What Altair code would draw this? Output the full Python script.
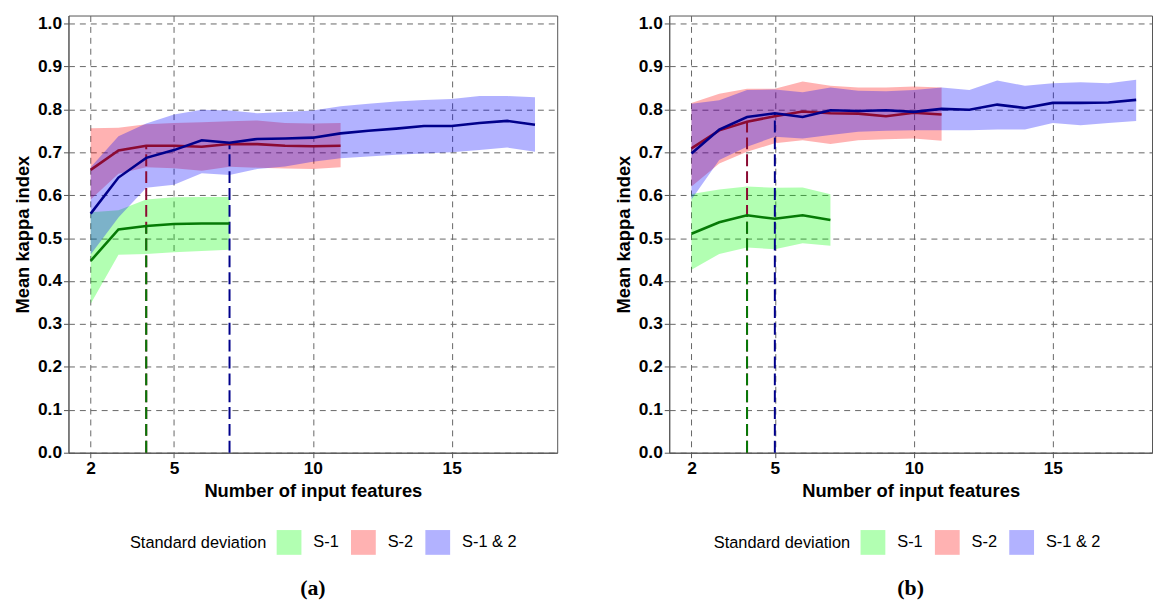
import altair as alt
import pandas as pd

# ---------------- data ----------------
series_names = ["S-1", "S-2", "S-1 & 2"]

# Panel (a)
a_x_s1 = [2, 3, 4, 5, 6, 7]
a_s1_mean = [0.447, 0.520, 0.528, 0.533, 0.534, 0.534]
a_s1_upper = [0.560, 0.565, 0.590, 0.595, 0.596, 0.596]
a_s1_lower = [0.347, 0.461, 0.463, 0.467, 0.470, 0.473]

a_x_s2 = [2, 3, 4, 5, 6, 7, 8, 9, 10, 11]
a_s2_mean = [0.659, 0.704, 0.715, 0.715, 0.713, 0.719, 0.719, 0.715, 0.714, 0.715]
a_s2_upper = [0.756, 0.757, 0.765, 0.768, 0.770, 0.772, 0.774, 0.768, 0.767, 0.768]
a_s2_lower = [0.590, 0.650, 0.665, 0.663, 0.657, 0.666, 0.664, 0.662, 0.661, 0.665]

a_x_s12 = [2, 3, 4, 5, 6, 7, 8, 9, 10, 11, 12, 13, 14, 15, 16, 17, 18]
a_s12_mean = [0.557, 0.641, 0.687, 0.705, 0.728, 0.722, 0.731, 0.732, 0.734,
              0.744, 0.750, 0.755, 0.761, 0.761, 0.768, 0.773, 0.764]
a_s12_upper = [0.665, 0.737, 0.767, 0.788, 0.799, 0.797, 0.791, 0.794, 0.797,
               0.807, 0.813, 0.818, 0.822, 0.824, 0.831, 0.831, 0.828]
a_s12_lower = [0.462, 0.548, 0.617, 0.624, 0.651, 0.647, 0.661, 0.667, 0.678,
               0.686, 0.690, 0.694, 0.697, 0.700, 0.705, 0.711, 0.701]

a_best_x = [4, 4, 7]            # S-2, S-1, S-1 & 2
a_best_y = [0.715, 0.528, 0.722]

# Panel (b)
b_x_s1 = [2, 3, 4, 5, 6, 7]
b_s1_mean = [0.510, 0.537, 0.553, 0.545, 0.553, 0.542]
b_s1_upper = [0.603, 0.613, 0.620, 0.617, 0.618, 0.602]
b_s1_lower = [0.426, 0.463, 0.478, 0.474, 0.488, 0.482]

b_x_s2 = [2, 3, 4, 5, 6, 7, 8, 9, 10, 11]
b_s2_mean = [0.709, 0.751, 0.771, 0.784, 0.795, 0.791, 0.790, 0.784, 0.792, 0.788]
b_s2_upper = [0.815, 0.836, 0.848, 0.848, 0.865, 0.855, 0.851, 0.851, 0.853, 0.851]
b_s2_lower = [0.620, 0.674, 0.701, 0.721, 0.728, 0.719, 0.728, 0.730, 0.732, 0.727]

b_x_s12 = [2, 3, 4, 5, 6, 7, 8, 9, 10, 11, 12, 13, 14, 15, 16, 17, 18]
b_s12_mean = [0.697, 0.753, 0.782, 0.791, 0.782, 0.798, 0.796, 0.798, 0.794,
              0.801, 0.799, 0.811, 0.803, 0.815, 0.815, 0.816, 0.822]
b_s12_upper = [0.813, 0.821, 0.845, 0.846, 0.840, 0.851, 0.843, 0.842, 0.845,
               0.851, 0.845, 0.867, 0.855, 0.861, 0.863, 0.861, 0.869]
b_s12_lower = [0.590, 0.682, 0.713, 0.736, 0.732, 0.740, 0.748, 0.750, 0.751,
               0.751, 0.751, 0.753, 0.753, 0.768, 0.763, 0.768, 0.773]

b_best_x = [4, 4, 5]
b_best_y = [0.771, 0.553, 0.791]

y_ticks = [0.0, 0.1, 0.2, 0.3, 0.4, 0.5, 0.6, 0.7, 0.8, 0.9, 1.0]
x_ticks = [2, 5, 10, 15]

fill_colors = ["#00FF00", "#FF0000", "#0000FF"]
line_colors = ["#067A06", "#8B0A32", "#00008B"]

FONT = "Liberation Sans"


def series_frame(xs, mean, upper, lower, name):
    return pd.DataFrame({"x": xs, "mean": mean, "upper": upper,
                         "lower": lower, "series": name})


def panel(frames, best_x, best_y, xmax, width, caption, legend_x):
    df = pd.concat(frames, ignore_index=True)
    best = pd.DataFrame({"x": best_x, "y": best_y,
                         "series": ["S-2", "S-1", "S-1 & 2"]})
    xs = alt.Scale(domain=[1.2, xmax], nice=False, zero=False)
    ys = alt.Scale(domain=[0, 1.0185], nice=False, zero=False)
    x_enc = alt.X("x:Q", scale=xs,
                  axis=alt.Axis(values=x_ticks, title="Number of input features",
                                format="d"))
    y_axis = alt.Axis(values=y_ticks, format=".1f", title="Mean kappa index")

    stroke_scale = alt.Scale(domain=series_names, range=line_colors)

    band = alt.Chart(df).mark_area(fillOpacity=0.3, strokeWidth=0).encode(
        x=x_enc,
        y=alt.Y("lower:Q", scale=ys, axis=y_axis),
        y2="upper:Q",
        fill=alt.Fill("series:N",
                      scale=alt.Scale(domain=series_names, range=fill_colors),
                      legend=alt.Legend(title="Standard deviation",
                                        orient="none", direction="horizontal",
                                        legendX=legend_x, legendY=519,
                                        titleOrient="left")),
    )
    # dashed drop lines start at the axis (y = 0) so overlapping dashes share phase
    rules = alt.Chart(best).transform_calculate(base="0").mark_rule(
        strokeWidth=2, strokeDash=[12, 5]
    ).encode(
        x=alt.X("x:Q", scale=xs),
        y=alt.Y("base:Q", scale=ys),
        y2="y:Q",
        stroke=alt.Stroke("series:N", scale=stroke_scale, legend=None),
    )
    lines = alt.Chart(df).mark_line(strokeWidth=2.6).encode(
        x=alt.X("x:Q", scale=xs),
        y=alt.Y("mean:Q", scale=ys),
        stroke=alt.Stroke("series:N", scale=stroke_scale, legend=None),
    )
    return alt.layer(band, rules, lines).properties(
        width=width, height=441,
        title=alt.TitleParams(caption, orient="bottom", font="Liberation Serif",
                              fontSize=22, fontWeight="bold", color="black",
                              offset=24),
    )


panel_a = panel(
    [series_frame(a_x_s1, a_s1_mean, a_s1_upper, a_s1_lower, "S-1"),
     series_frame(a_x_s2, a_s2_mean, a_s2_upper, a_s2_lower, "S-2"),
     series_frame(a_x_s12, a_s12_mean, a_s12_upper, a_s12_lower, "S-1 & 2")],
    a_best_x, a_best_y, 18.8, 493, "(a)", 62)

panel_b = panel(
    [series_frame(b_x_s1, b_s1_mean, b_s1_upper, b_s1_lower, "S-1"),
     series_frame(b_x_s2, b_s2_mean, b_s2_upper, b_s2_lower, "S-2"),
     series_frame(b_x_s12, b_s12_mean, b_s12_upper, b_s12_lower, "S-1 & 2")],
    b_best_x, b_best_y, 18.57, 487, "(b)", 45)

chart = alt.hconcat(panel_a, panel_b, spacing=56).resolve_legend(
    fill="independent"
).properties(
    padding={"left": 5, "top": 3, "right": 0, "bottom": 0}
).configure_view(
    stroke="#555555", strokeWidth=1
).configure_axis(
    labelFont=FONT, labelFontWeight="bold", labelFontSize=17.5, labelColor="black",
    titleFont=FONT, titleFontWeight="bold", titleFontSize=18.5, titleColor="black",
    domainColor="#555555", tickColor="#555555", tickSize=5, labelPadding=2,
    gridColor="#666666", gridDash=[6, 5], gridWidth=1, titlePadding=5,
).configure_legend(
    labelFont=FONT, labelFontSize=16.5, labelColor="black",
    titleFont=FONT, titleFontSize=16.5, titleFontWeight="normal", titleColor="black",
    symbolType="square", symbolSize=625, symbolOpacity=0.3, symbolStrokeWidth=0,
    labelOffset=12, columnPadding=12, titlePadding=10, padding=0,
).configure_title(anchor="middle")

chart.save("out.html", embed_options={"renderer": "svg", "actions": False})
